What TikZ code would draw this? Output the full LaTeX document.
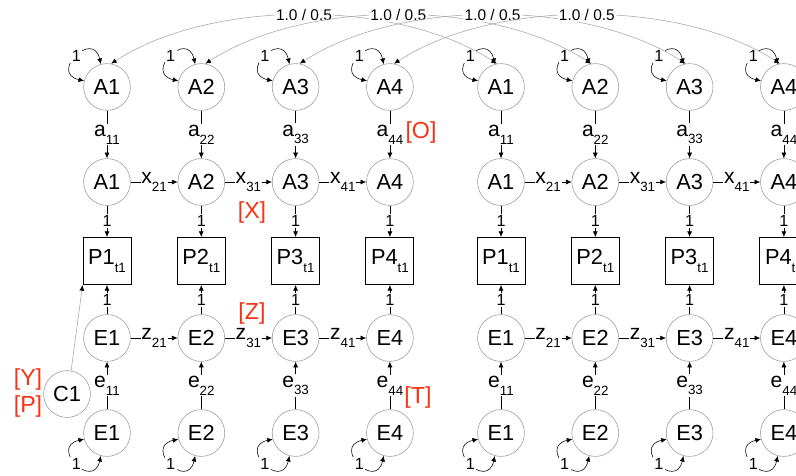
\documentclass[tikz,border=0pt]{standalone}
\usepackage{fontspec}
\setmainfont{Liberation Sans}
\usetikzlibrary{arrows.meta}

\definecolor{tagred}{RGB}{250,50,20}
\newcommand{\lsub}[1]{\raisebox{-5.5pt}{\fontsize{9.5}{10}\selectfont #1}}

\tikzset{
    latent/.style={circle, draw=gray!80, line width=0.4pt, minimum size=1.17cm, inner sep=0pt, font=\fontsize{15.5}{17}\selectfont},
    observed/.style={rectangle, draw=black, line width=0.6pt, minimum width=1.2cm, minimum height=1.18cm, inner sep=0pt, font=\fontsize{15.5}{17}\selectfont},
    effect/.style={->, line width=0.4pt},
    covar/.style={<->, line width=0.4pt},
    coef/.style={fill=white, inner sep=1pt, font=\fontsize{15}{17}\selectfont},
    fixed/.style={fill=white, inner sep=1pt, font=\fontsize{11.5}{13}\selectfont},
    tag/.style={text=tagred, inner sep=0pt, font=\fontsize{16.5}{18}\selectfont}
}

\begin{document}
\begin{tikzpicture}[x=0.025cm, y=-0.025cm, >={Latex[length=4pt,width=3.5pt]}]
\clip (0,0) rectangle (796,475);

% two time points, four indicators each
\foreach \g/\dx in {L/0,R/394}{
    \foreach \i in {1,...,4}{
        \pgfmathsetmacro{\x}{107+94.3*(\i-1)+\dx}
        \node[latent] (\g tA\i) at (\x,87) {A\i};
        \node[latent] (\g mA\i) at (\x,182) {A\i};
        \node[observed] (\g P\i) at (\x,261) {P\i\lsub{t1}};
        \node[latent] (\g mE\i) at (\x,338) {E\i};
        \node[latent] (\g bE\i) at (\x,433) {E\i};

        \draw[effect] (\g tA\i) -- node[coef] {a\lsub{\i\i}} (\g mA\i);
        \draw[effect] (\g mA\i) -- node[fixed] {1} (\g P\i);
        \draw[effect] (\g mE\i) -- node[fixed] {1} (\g P\i);
        \draw[effect] (\g bE\i) -- node[coef] {e\lsub{\i\i}} (\g mE\i);

        \draw[covar] (\g tA\i.105) .. controls +(-8,-35) and +(-35,-8) .. (\g tA\i.165) node[fixed, pos=0.5] {1};
        \draw[covar] (\g bE\i.195) .. controls +(-35,8) and +(-8,35) .. (\g bE\i.255) node[fixed, pos=0.5] {1};
    }
    \foreach \j/\i in {1/2,2/3,3/4}{
        \draw[effect] (\g mA\j) -- node[coef, inner sep=0.5pt] {x\lsub{\i1}} (\g mA\i);
        \draw[effect] (\g mE\j) -- node[coef, inner sep=0.5pt] {z\lsub{\i1}} (\g mE\i);
    }
}

% links between the time points
\foreach \i in {1,...,4}
    \draw[{Latex[length=4pt,width=3.5pt,color=black]}-{Latex[length=4pt,width=3.5pt,color=black]}, draw=gray!70, line width=0.4pt]
        (LtA\i.80) .. controls +(100,-65) and +(-100,-65) .. (RtA\i.100)
        node[fixed, pos=0.5, font=\fontsize{11}{13}\selectfont] {1.0 / 0.5};

\node[latent] (C1) at (67,394) {C1};
\draw[-{Latex[length=4pt,width=3.5pt,color=black]}, draw=gray!70, line width=0.4pt] (C1.80) -- (LP1.south west);

% red tags
\node[tag] (tagX) at (252,212) {[X]};
\node[tag] (tagO) at (421,132) {[O]};
\node[tag] (tagZ) at (252,313) {[Z]};
\node[tag] (tagY) at (28,379) {[Y]};
\node[tag] (tagP) at (28,406) {[P]};
\node[tag] (tagT) at (418,397) {[T]};
\end{tikzpicture}
\end{document}
